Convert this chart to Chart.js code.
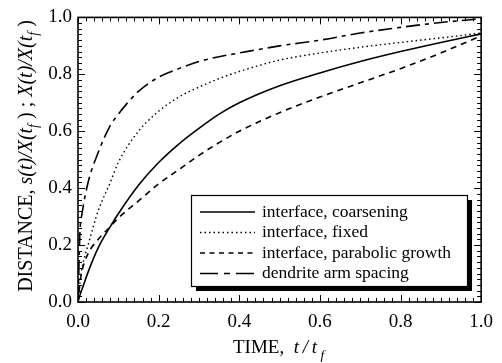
<!DOCTYPE html>
<html>
<head>
<meta charset="utf-8">
<script src="https://cdn.jsdelivr.net/npm/chart.js@4/dist/chart.umd.min.js"></script>
<style>
html, body { margin: 0; padding: 0; background: #fff; }
</style>
</head>
<body>
<canvas id="chart" width="502" height="363"></canvas>
<script>
// values (t/tf on x)
const time = [0, 0.005, 0.01, 0.025, 0.05, 0.08, 0.1, 0.15, 0.2, 0.25, 0.3, 0.35, 0.4, 0.5, 0.6, 0.7, 0.8, 0.9, 1.0];
const coarsening = [0, 0.025, 0.045, 0.105, 0.19, 0.265, 0.31, 0.41, 0.49, 0.555, 0.61, 0.66, 0.70, 0.76, 0.805, 0.845, 0.88, 0.912, 0.942];
const fixed = [0, 0.07, 0.12, 0.2, 0.32, 0.42, 0.49, 0.6, 0.67, 0.72, 0.755, 0.785, 0.81, 0.85, 0.875, 0.895, 0.912, 0.928, 0.945];
const parabolic = [0, 0.07, 0.11, 0.17, 0.22, 0.265, 0.295, 0.355, 0.415, 0.465, 0.515, 0.56, 0.6, 0.665, 0.72, 0.77, 0.82, 0.875, 0.935];
const armSpacing = [0, 0.25, 0.31, 0.42, 0.525, 0.62, 0.66, 0.74, 0.79, 0.82, 0.845, 0.862, 0.875, 0.9, 0.92, 0.945, 0.965, 0.982, 0.995];

const seriesNames = ['interface, coarsening', 'interface, fixed', 'interface, parabolic growth', 'dendrite arm spacing'];
const tickLabels = ['0.0', '0.2', '0.4', '0.6', '0.8', '1.0'];

const serif = '"Liberation Serif", "Times New Roman", serif';

function pts(values) {
    return time.map(function(t, i) { return {x: t, y: values[i]}; });
}

function makeSet(label, values, dash, width) {
    return {
        label: label,
        data: pts(values),
        borderColor: '#000',
        borderWidth: width,
        borderDash: dash,
        pointRadius: 0,
        cubicInterpolationMode: 'monotone',
        fill: false
    };
}

// draw a run of text pieces (plain / italic / subscript) starting at x
function drawParts(ctx, parts, x, y, size) {
    parts.forEach(function(p) {
        const s = p.sub ? size * 0.7 : size;
        ctx.font = (p.italic ? 'italic ' : '') + s + 'px ' + serif;
        ctx.fillText(p.text, x, y + (p.sub ? size * 0.3 : 0));
        x += ctx.measureText(p.text).width;
    });
    return x;
}
function partsWidth(ctx, parts, size) {
    let w = 0;
    parts.forEach(function(p) {
        const s = p.sub ? size * 0.7 : size;
        ctx.font = (p.italic ? 'italic ' : '') + s + 'px ' + serif;
        w += ctx.measureText(p.text).width;
    });
    return w;
}

const xTitle = [
    {text: 'TIME,  '},
    {text: 't\u2009/\u2009t', italic: true},
    {text: ' f', italic: true, sub: true}
];
const yTitle = [
    {text: 'DISTANCE, '},
    {text: 's(t)/X(t', italic: true},
    {text: 'f', italic: true, sub: true},
    {text: ' )'},
    {text: ' ; '},
    {text: 'X(t)/X(t', italic: true},
    {text: 'f', italic: true, sub: true},
    {text: ' )'}
];

const decorations = {
    id: 'decorations',
    afterDatasetsDraw(chart) {
        const ctx = chart.ctx;
        const a = chart.chartArea;
        const xs = chart.scales.x;
        const ys = chart.scales.y;
        ctx.save();
        ctx.strokeStyle = '#000';
        ctx.fillStyle = '#000';

        // inward ticks on all four sides
        ctx.lineWidth = 1;
        ctx.beginPath();
        for (let i = 0; i <= 50; i++) {
            const v = i / 50;
            const len = i % 10 === 0 ? 7 : 4;
            const px = Math.round(xs.getPixelForValue(v)) + 0.5;
            ctx.moveTo(px, a.bottom); ctx.lineTo(px, a.bottom - len);
            ctx.moveTo(px, a.top); ctx.lineTo(px, a.top + len);
            const py = Math.round(ys.getPixelForValue(v)) + 0.5;
            ctx.moveTo(a.left, py); ctx.lineTo(a.left + len, py);
            ctx.moveTo(a.right, py); ctx.lineTo(a.right - len, py);
        }
        ctx.stroke();
        ctx.lineWidth = 1.6;
        ctx.strokeRect(a.left, a.top, a.right - a.left, a.bottom - a.top);

        // legend box with drop shadow
        const bx = 191, by = 195, bw = 276, bh = 91;
        ctx.fillRect(bx + 5, by + 5, bw, bh);
        ctx.fillStyle = '#fff';
        ctx.fillRect(bx, by, bw, bh);
        ctx.lineWidth = 1.2;
        ctx.strokeRect(bx + 0.5, by + 0.5, bw, bh);
        ctx.fillStyle = '#000';
        ctx.font = '17.5px ' + serif;
        ctx.textBaseline = 'middle';
        chart.data.datasets.forEach(function(ds, i) {
            const ly = by + 17 + i * 20.5;
            ctx.lineWidth = ds.borderWidth;
            ctx.setLineDash(ds.legendDash || ds.borderDash || []);
            ctx.beginPath();
            ctx.moveTo(200, ly);
            ctx.lineTo(255, ly);
            ctx.stroke();
            ctx.setLineDash([]);
            ctx.fillText(ds.label, 262, ly);
        });

        // axis titles
        ctx.textBaseline = 'alphabetic';
        drawParts(ctx, xTitle, 233, 353, 19);
        ctx.translate(32, 156);
        ctx.rotate(-Math.PI / 2);
        const w = partsWidth(ctx, yTitle, 20);
        drawParts(ctx, yTitle, -w / 2, 0, 20);
        ctx.restore();
    }
};

const sets = [
    makeSet(seriesNames[0], coarsening, [], 1.6),
    makeSet(seriesNames[1], fixed, [1.5, 3], 1.4),
    makeSet(seriesNames[2], parabolic, [6, 5], 1.6),
    makeSet(seriesNames[3], armSpacing, [14, 5, 4, 5], 1.6)
];
sets[2].legendDash = [5, 4.5];
sets[3].legendDash = [18, 6, 6, 6];

new Chart(document.getElementById('chart').getContext('2d'), {
    type: 'line',
    data: {datasets: sets},
    options: {
        responsive: false,
        animation: false,
        events: [],
        layout: {
            padding: {left: 0, top: 13, right: 20, bottom: 0}
        },
        plugins: {
            legend: {display: false},
            tooltip: {enabled: false}
        },
        scales: {
            x: {
                type: 'linear',
                min: 0,
                max: 1,
                afterFit: function(scale) { scale.height = 61; },
                grid: {display: false, drawTicks: false},
                border: {display: false},
                ticks: {
                    stepSize: 0.2,
                    padding: 9,
                    color: '#000',
                    font: {family: serif, size: 19},
                    maxRotation: 0,
                    callback: function(value) { return tickLabels[Math.round(value * 5)]; }
                }
            },
            y: {
                type: 'linear',
                min: 0,
                max: 1,
                afterFit: function(scale) { scale.width = 78; },
                grid: {display: false, drawTicks: false},
                border: {display: false},
                ticks: {
                    stepSize: 0.2,
                    padding: 6,
                    color: '#000',
                    font: {family: serif, size: 19},
                    callback: function(value) { return tickLabels[Math.round(value * 5)]; }
                }
            }
        }
    },
    plugins: [decorations]
});
</script>
</body>
</html>
